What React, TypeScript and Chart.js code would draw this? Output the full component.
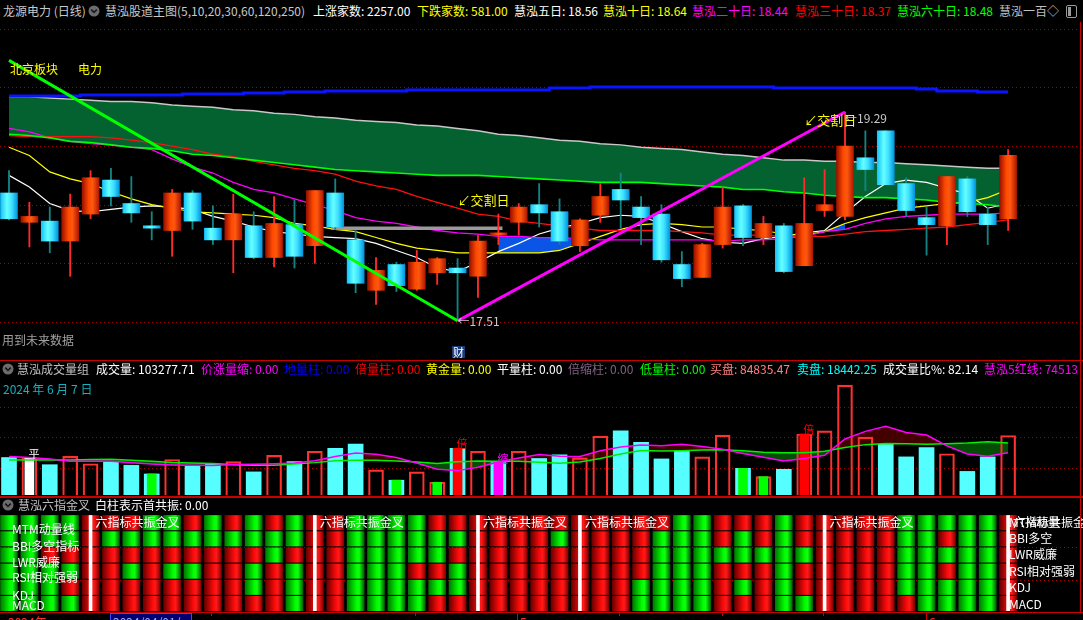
import React, { useEffect, useRef } from 'react';
import { Chart, registerables } from 'chart.js';

Chart.register(...registerables);

const FONT = '"Noto Sans CJK SC", "DejaVu Sans", sans-serif';

// ---------------- price panel data (50 daily candles) ----------------
const OPEN = [18.60,18.35,18.36,18.19,18.42,18.71,18.51,18.32,18.28,18.60, 18.30,18.20,18.32,18.05,18.33,18.15,18.60,18.20,17.77,17.99, 17.78,17.92,17.96,17.89,18.24,18.35,18.50,18.44,18.15,18.41, 18.63,18.48,18.42,17.99,17.88,18.16,18.49,18.22,18.32,17.98, 18.45,18.40,18.90,19.13,18.68,18.39,18.32,18.72,18.42,18.38];
const HIGH = [18.79,18.52,18.48,18.59,18.79,18.81,18.74,18.44,18.63,18.62, 18.49,18.59,18.44,18.57,18.54,18.62,18.72,18.28,18.05,18.01, 18.11,18.05,18.04,18.24,18.42,18.51,18.68,18.55,18.38,18.68, 18.77,18.57,18.50,18.10,18.17,18.65,18.50,18.40,18.34,18.73, 18.80,19.29,19.13,19.13,18.73,18.48,18.74,18.74,18.48,18.97];
const LOW = [18.37,18.14,18.09,17.89,18.38,18.49,18.35,18.20,18.06,18.29, 18.16,17.92,18.04,17.97,17.96,18.00,18.29,17.75,17.65,17.76, 17.77,17.82,17.51,17.71,18.16,18.24,18.31,18.16,18.10,18.35, 18.30,18.16,18.01,17.80,17.88,18.13,18.15,18.16,17.92,17.98, 18.40,18.37,18.62,18.67,18.40,18.07,18.16,18.40,18.16,18.28];
const CLOSE = [18.38,18.40,18.19,18.48,18.73,18.57,18.43,18.30,18.60,18.36, 18.20,18.42,18.05,18.34,18.06,18.62,18.31,17.83,17.94,17.81, 18.01,18.04,17.92,18.19,18.26,18.48,18.43,18.19,18.37,18.57, 18.54,18.39,18.03,17.87,18.16,18.48,18.22,18.34,17.93,18.34, 18.50,19.00,18.80,18.67,18.45,18.33,18.74,18.44,18.33,18.92];

const MA5 = [18.75,18.65,18.51,18.45,18.44,18.46,18.48,18.49,18.48,18.46, 18.40,18.36,18.31,18.27,18.25,18.23,18.22,18.21,18.17,18.11, 18.05,17.96,17.93,18.01,18.10,18.17,18.25,18.30,18.34,18.39, 18.41,18.40,18.34,18.27,18.21,18.18,18.17,18.21,18.23,18.26, 18.28,18.43,18.57,18.68,18.71,18.69,18.64,18.59,18.47,18.51];
const MA10 = [18.99,18.92,18.78,18.72,18.68,18.61,18.55,18.50,18.47,18.44, 18.43,18.42,18.41,18.39,18.34,18.32,18.29,18.27,18.22,18.17, 18.13,18.11,18.09,18.09,18.09,18.09,18.09,18.11,18.17,18.23, 18.29,18.33,18.34,18.33,18.31,18.31,18.29,18.28,18.25,18.24, 18.27,18.34,18.39,18.43,18.47,18.49,18.51,18.52,18.56,18.63];
const MA20 = [19.15,19.12,19.07,19.04,19.02,19.01,18.99,18.97,18.89,18.82, 18.77,18.69,18.63,18.60,18.55,18.50,18.45,18.39,18.36,18.34, 18.31,18.28,18.26,18.25,18.23,18.23,18.22,18.22,18.21,18.20, 18.20,18.20,18.20,18.20,18.20,18.19,18.20,18.20,18.21,18.23, 18.27,18.29,18.34,18.38,18.40,18.41,18.42,18.42,18.42,18.43];
const MA30 = [19.09,19.08,19.08,19.08,19.08,19.07,19.05,19.03,19.00,18.97, 18.93,18.91,18.87,18.84,18.81,18.79,18.76,18.70,18.66,18.63, 18.57,18.52,18.47,18.42,18.40,18.36,18.34,18.32,18.30,18.28, 18.28,18.28,18.28,18.27,18.26,18.24,18.24,18.24,18.23,18.23, 18.23,18.25,18.27,18.28,18.29,18.30,18.31,18.33,18.35,18.37];
const MA60 = [19.10,19.09,19.07,19.04,19.03,19.01,18.99,18.98,18.96,18.93, 18.92,18.90,18.88,18.86,18.84,18.82,18.80,18.79,18.78,18.77, 18.76,18.75,18.75,18.75,18.74,18.73,18.72,18.71,18.70,18.69, 18.69,18.69,18.68,18.67,18.66,18.65,18.63,18.63,18.61,18.60, 18.58,18.57,18.56,18.56,18.55,18.54,18.52,18.51,18.50,18.48];
const MA120 = [19.42,19.42,19.41,19.40,19.39,19.38,19.38,19.37,19.35,19.34, 19.33,19.31,19.30,19.28,19.27,19.25,19.24,19.22,19.21,19.20, 19.18,19.17,19.15,19.13,19.10,19.09,19.07,19.05,19.04,19.02, 19.01,18.99,18.98,18.97,18.95,18.93,18.92,18.90,18.88,18.88, 18.87,18.87,18.86,18.86,18.85,18.84,18.83,18.82,18.81,18.81];
const MA250 = [19.427,19.427,19.427,19.427,19.435,19.435,19.435,19.435,19.435,19.444, 19.444,19.444,19.452,19.452,19.461,19.461,19.469,19.469,19.469,19.469, 19.478,19.478,19.478,19.478,19.478,19.478,19.478,19.495,19.495,19.503, 19.503,19.503,19.503,19.503,19.503,19.503,19.503,19.503,19.495,19.495, 19.495,19.495,19.495,19.495,19.495,19.486,19.469,19.469,19.461,19.461];

const PRICE_GRID = [17.5, 18, 18.5, 19, 19.5, 20];
const TREND_DOWN = [[0, 19.73], [22, 17.51]];
const TREND_UP = [[22, 17.51], [41, 19.29]];
const SUPPORT = [15.8, 24.2, 18.30]; // from index, to index, price
const BLUE_FILL_RANGES = [[24, 28], [39, 41]];
const DELIVERY_DAYS = [[22, 18.54], [39, 19.22]];
const LOW_MARK = [22, 17.51];
const HIGH_MARK = [41, 19.29];
const CAI_DAYS = [22];

// ---------------- volume panel data (thousand lots) ----------------
const VOLUME = [67.2,67.2,55.4,69.0,57.0,60.5,54.3,40.2,63.9,53.1, 56.5,60.5,43.6,70.6,60.5,77.4,82.4,89.3,46.9,30.0, 43.6,26.6,82.4,77.4,58.8,77.4,65.6,71.6,66.5,102.3, 110.8,92.1,64.9,77.9,68.2,103.9,49.5,35.9,47.9,105.7, 110.8,185.7,100.6,88.7,68.2,83.6,73.3,44.4,68.2,103.3];
const VOL_RED = [0,1,0,1,1,0,0,0,1,0, 0,1,0,1,0,1,0,0,1,0, 1,1,0,1,0,1,0,0,1,1, 0,0,0,0,1,1,0,1,0,1, 1,1,1,0,0,0,1,0,0,1];
const VOL_MARK = ['','w','','','','','','g','','', '','','','','','','','','','g', '','g','r','','m','','','','','', '','','','','','','g','g','','r', '','','','','','','','','',''];
const VOL_TAGS = [[1, '平'], [22, '倍'], [24, '缩'], [39, '倍']];
const VOL_LINE_M = [68.8,67.0,64.7,61.0,61.0,61.0,58.5,56.5,55.1,54.3, 54.1,55.6,56.2,57.0,58.2,61.8,68.7,74.6,72.4,67.2, 58.2,48.0,45.7,51.1,59.8,66.4,72.1,69.2,68.8,78.3, 84.4,87.7,86.4,88.8,85.2,80.8,73.9,67.5,61.6,65.6, 70.8,97.5,110.0,118.2,108.2,104.1,86.2,72.9,69.2,75.1];
const VOL_LINE_G = [63.3,62.9,62.9,63.1,63.8,64.2,62.8,61.0,59.0,58.2, 57.2,55.4,54.7,54.7,56.5,58.8,62.0,62.8,62.8,61.6, 59.8,57.5,60.3,61.5,61.1,61.0,59.3,57.9,60.0,65.4, 72.9,78.7,78.0,78.3,79.3,80.0,78.2,75.9,75.1,75.1, 77.5,83.6,88.3,90.3,89.8,89.0,89.7,91.0,93.1,91.0];
const VOL_GRID = [50, 100, 150];

// ---------------- six-indicator signal grid (1 = red, 0 = green) ----------------
const SIG_MTM = [0,0,0,0,1,1,1,0,0,1, 0,1,0,1,0,1,1,0,0,0, 0,1,1,1,1,1,1,1,1,1, 1,1,1,0,0,1,1,1,0,1, 1,1,1,1,0,0,0,0,0,1];
const SIG_BBI = [0,0,0,0,1,0,0,0,0,0, 0,0,0,0,0,1,1,0,0,0, 0,0,0,1,1,1,1,0,1,1, 1,1,0,0,0,1,0,1,0,1, 1,1,1,1,0,0,1,0,0,1];
const SIG_LWR = [0,0,1,1,1,1,1,1,1,1, 1,1,1,0,1,1,1,0,0,0, 0,0,1,1,1,1,1,1,1,1, 1,1,0,0,0,0,0,0,0,0, 1,1,1,1,0,0,0,0,0,1];
const SIG_RSI = [0,0,0,0,1,1,0,1,0,0, 1,1,0,1,0,1,1,0,0,0, 1,1,0,1,1,1,1,1,1,1, 1,1,0,0,0,1,1,1,0,1, 1,1,1,1,0,0,1,0,0,1];
const SIG_KDJ = [0,0,0,1,1,1,1,1,1,1, 1,1,0,1,0,1,1,0,0,0, 0,0,0,1,1,1,1,1,1,1, 1,0,0,0,0,1,0,1,0,1, 1,1,1,1,0,0,0,0,0,1];
const SIG_MACD = [0,0,0,0,1,1,1,1,1,1, 1,1,1,1,0,1,1,0,0,0, 0,1,1,1,1,1,1,1,1,1, 1,0,0,0,0,1,1,1,0,0, 1,1,1,1,1,0,0,0,0,1];
const SIG_ROWS = [SIG_MTM, SIG_BBI, SIG_LWR, SIG_RSI, SIG_KDJ, SIG_MACD];
const SIG_NAMES_LEFT = ['MTM动量线', 'BBI多空指标', 'LWR威廉', 'RSI相对强弱', 'KDJ', 'MACD'];
const SIG_NAMES_RIGHT = ['MTM动量', 'BBI多空', 'LWR威廉', 'RSI相对强弱', 'KDJ', 'MACD'];
const RESONANCE_COLS = [4, 15, 23, 28, 40, 49];
const SIG_GRID = [2, 4];

// ---------------- helpers ----------------
const X_MIN = -0.4414;
const X_MAX = 52.673;
const xScale = () => ({ type: 'linear', min: X_MIN, max: X_MAX, offset: false, display: false, grid: { offset: false } });

function hGrad(chart: any, i: number, half: number, stops: [number, string][]) {
  const xs = chart.scales && chart.scales.x;
  const cx = xs ? xs.getPixelForValue(i) : NaN;
  if (!Number.isFinite(cx)) return stops[1][1];
  const g = chart.ctx.createLinearGradient(cx - half, 0, cx + half, 0);
  stops.forEach(([o, c]) => g.addColorStop(o, c));
  return g;
}

const RED_BODY: [number, string][] = [[0, '#9a1000'], [0.4, '#ff4a00'], [0.62, '#ff5810'], [1, '#b01800']];
const CYAN_BODY: [number, string][] = [[0, '#12c4ff'], [0.38, '#66ffff'], [0.66, '#3ee0ff'], [1, '#0094e0']];
const RED_CELL: [number, string][] = [[0, '#6a0000'], [0.55, '#ff0a0a'], [0.7, '#ff1a1a'], [1, '#8a0000']];
const GREEN_CELL: [number, string][] = [[0, '#007a00'], [0.55, '#00ff00'], [0.7, '#10ff10'], [1, '#006400']];

const hLines = {
  id: 'hlines',
  beforeDraw(chart: any, _a: any, opts: any) {
    if (!opts || !opts.levels) return;
    const { ctx, chartArea, scales } = chart;
    ctx.save();
    ctx.strokeStyle = opts.color || '#a00000';
    ctx.lineWidth = 1;
    ctx.setLineDash([1, 3]);
    for (const v of opts.levels) {
      const py = Math.round(scales.y.getPixelForValue(v)) + 0.5;
      ctx.beginPath();
      ctx.moveTo(chartArea.left, py);
      ctx.lineTo(chartArea.right, py);
      ctx.stroke();
    }
    ctx.restore();
  },
};

const priceNotes = {
  id: 'priceNotes',
  afterDatasetsDraw(chart: any) {
    const { ctx, chartArea, scales } = chart;
    const X = (i: number) => scales.x.getPixelForValue(i);
    const Y = (p: number) => scales.y.getPixelForValue(p);
    ctx.save();
    ctx.textAlign = 'left';
    ctx.textBaseline = 'middle';
    ctx.font = `13px ${FONT}`;
    ctx.fillStyle = '#ffff00';
    DELIVERY_DAYS.forEach(([i, p]) => ctx.fillText('↙交割日', X(i), Y(p)));
    ctx.font = `12px ${FONT}`;
    ctx.fillStyle = '#c8c8c8';
    ctx.fillText('←' + LOW_MARK[1].toFixed(2), X(LOW_MARK[0]), Y(LOW_MARK[1]) + 1);
    ctx.fillText('←' + HIGH_MARK[1].toFixed(2), X(HIGH_MARK[0]), Y(HIGH_MARK[1]) + 6);
    CAI_DAYS.forEach((i) => {
      const x = X(i);
      ctx.fillStyle = '#1c3a78';
      ctx.fillRect(Math.round(x) - 6, chartArea.bottom - 12, 13, 13);
      ctx.fillStyle = '#ffffff';
      ctx.font = `11px ${FONT}`;
      ctx.textAlign = 'center';
      ctx.fillText('财', Math.round(x) + 0.5, chartArea.bottom - 5.5);
    });
    ctx.restore();
  },
};

const volNotes = {
  id: 'volNotes',
  afterDatasetsDraw(chart: any) {
    const { ctx, scales } = chart;
    ctx.save();
    ctx.font = `11px ${FONT}`;
    ctx.textAlign = 'left';
    ctx.textBaseline = 'middle';
    VOL_TAGS.forEach(([i, t]: any) => {
      ctx.fillStyle = t === '平' ? '#ffffff' : t === '缩' ? '#ff00ff' : '#ff0000';
      ctx.fillText(t, scales.x.getPixelForValue(i) - 1, scales.y.getPixelForValue(VOLUME[i]) - 4);
    });
    ctx.restore();
  },
};

const sigNotes = {
  id: 'sigNotes',
  afterDatasetsDraw(chart: any) {
    const { ctx, scales, chartArea } = chart;
    ctx.save();
    ctx.font = `12px ${FONT}`;
    ctx.fillStyle = '#ffffff';
    ctx.textAlign = 'left';
    ctx.textBaseline = 'middle';
    RESONANCE_COLS.forEach((i) => ctx.fillText('六指标共振金叉', scales.x.getPixelForValue(i) + 5, chartArea.top + 7));
    ctx.restore();
  },
};

const baseOptions = (y: any, plugins: any) => ({
  responsive: false,
  maintainAspectRatio: false,
  animation: false,
  events: [],
  layout: { padding: 0, autoPadding: false },
  plugins: {
    legend: { display: false },
    tooltip: { enabled: false },
    filler: { propagate: false, drawTime: 'beforeDatasetsDraw' },
    ...plugins,
  },
  scales: { x: xScale(), y },
});

const line = (data: any[], color: string, width: number, order: number, extra: any = {}) => ({
  type: 'line', data, borderColor: color, borderWidth: width, pointRadius: 0, tension: 0, fill: false, order, ...extra,
});

function makePrice(canvas: HTMLCanvasElement) {
  const pts = (arr: number[]) => arr.map((v, i) => ({ x: i, y: v }));
  const inR = (i: number) => BLUE_FILL_RANGES.some(([a, b]) => i >= a && i <= b);
  const BAND = '#03622f';
  const BLUE = '#0a55e6';
  const up = (i: number) => CLOSE[i] >= OPEN[i];
  const datasets: any[] = [
    line(pts(MA120), '#c8c8c8', 1.5, 9, { fill: { target: 1, above: BAND, below: BAND } }),
    line(pts(MA60), '#00ff00', 1.6, 6),
    line(MA20.map((v, i) => ({ x: i, y: inR(i) ? v : null })), 'rgba(0,0,0,0)', 1, 8, { fill: { target: 3, above: BLUE, below: BLUE } }),
    line(MA10.map((v, i) => ({ x: i, y: inR(i) ? v : null })), 'rgba(0,0,0,0)', 1, 8),
    line(pts(MA250), '#0a14ff', 3, 6, { stepped: 'middle' }),
    line(pts(MA30), '#ff1010', 1.3, 6),
    line(pts(MA20), '#ff00ff', 1.3, 6),
    line(pts(MA10), '#ffff00', 1.2, 6),
    line(pts(MA5), '#ffffff', 1.2, 6),
    line([{ x: SUPPORT[0], y: SUPPORT[2] }, { x: SUPPORT[1], y: SUPPORT[2] }], '#9a9a9a', 3.5, 5),
    {
      type: 'bar', order: 3, grouped: false, barThickness: 1.2,
      data: OPEN.map((_, i) => ({ x: i, y: [LOW[i], HIGH[i]] })),
      backgroundColor: (c: any) => (c.raw && up(c.raw.x) ? '#ff2a2a' : '#138383'),
    },
    {
      type: 'bar', order: 2, grouped: false, barThickness: 17, minBarLength: 2,
      data: OPEN.map((o, i) => ({ x: i, y: [o, CLOSE[i]] })),
      backgroundColor: (c: any) => {
        if (!c.raw) return '#ff4a00';
        const i = c.raw.x;
        return hGrad(c.chart, i, 8.5, up(i) ? RED_BODY : CYAN_BODY);
      },
    },
    line(TREND_DOWN.map(([i, p]) => ({ x: i, y: p })), '#00ff00', 3, 1),
    line(TREND_UP.map(([i, p]) => ({ x: i, y: p })), '#ff00ff', 3, 1),
  ];
  return new Chart(canvas, {
    type: 'bar',
    data: { datasets },
    options: baseOptions({ type: 'linear', min: 17.1931, max: 20.0575, display: false }, { hlines: { levels: PRICE_GRID, color: '#a00000' } }),
    plugins: [hLines, priceNotes],
  } as any);
}

function makeVol(canvas: HTMLCanvasElement) {
  const pts = (arr: number[]) => arr.map((v, i) => ({ x: i, y: v }));
  const markColor: any = { w: '#ffffff', g: '#00ff00', r: '#ff0000', m: '#ff00ff' };
  const datasets: any[] = [
    line(pts(VOL_LINE_M), '#ff00ff', 1.5, 1, { fill: { target: 1, above: '#420000', below: '#044d04' } }),
    line(pts(VOL_LINE_G), '#00ee00', 1.5, 1),
    {
      type: 'bar', order: 3, grouped: false, barThickness: 15,
      data: pts(VOLUME),
      backgroundColor: (c: any) => (c.raw && VOL_RED[c.raw.x] ? 'rgba(0,0,0,0)' : '#55ffff'),
      borderColor: (c: any) => (c.raw && VOL_RED[c.raw.x] ? '#ff3030' : '#55ffff'),
      borderWidth: (c: any) => (c.raw && VOL_RED[c.raw.x] ? 1.5 : 0),
      borderSkipped: 'start',
    },
    {
      type: 'bar', order: 2, grouped: false, barThickness: 9,
      data: VOL_MARK.map((m, i) => (m ? { x: i, y: VOLUME[i] } : null)).filter(Boolean),
      backgroundColor: (c: any) => (c.raw ? markColor[VOL_MARK[c.raw.x]] : '#fff'),
    },
  ];
  return new Chart(canvas, {
    type: 'bar',
    data: { datasets },
    options: baseOptions({ type: 'linear', min: 5.74, max: 225.36, display: false }, { hlines: { levels: VOL_GRID, color: '#a00000' } }),
    plugins: [hLines, volNotes],
  } as any);
}

function makeSig(canvas: HTMLCanvasElement) {
  const datasets: any[] = SIG_ROWS.map((row, r) => ({
    type: 'bar', order: 2, grouped: false, barThickness: 17,
    data: row.map((_, i) => ({ x: i, y: [r + 0.03, r + 0.92] })),
    backgroundColor: (c: any) => {
      if (!c.raw) return '#f00';
      const i = c.raw.x;
      return hGrad(c.chart, i, 8.5, row[i] ? RED_CELL : GREEN_CELL);
    },
  }));
  datasets.push({
    type: 'bar', order: 1, grouped: false, barThickness: 3,
    data: RESONANCE_COLS.map((i) => ({ x: i, y: [0.03, 5.92] })),
    backgroundColor: '#ffffff',
  });
  return new Chart(canvas, {
    type: 'bar',
    data: { datasets },
    options: baseOptions({ type: 'linear', min: 0, max: 6, reverse: true, display: false }, { hlines: { levels: SIG_GRID, color: '#b00000' } }),
    plugins: [hLines, sigNotes],
  } as any);
}

// ---------------- UI pieces ----------------
function T({ x, y, c, s = 12, children }: any) {
  return (
    <div style={{ position: 'absolute', left: x, top: y - 8, height: 16, lineHeight: '16px', color: c, fontSize: s, whiteSpace: 'nowrap', fontFamily: FONT }}>
      {children}
    </div>
  );
}

function Knob({ x, y }: any) {
  return (
    <svg width={12} height={12} style={{ position: 'absolute', left: x, top: y - 6 }}>
      <circle cx={6} cy={6} r={5.5} fill="#6c6c6c" />
      <polyline points="3.2,4.6 6,7.4 8.8,4.6" fill="none" stroke="#1a1a1a" strokeWidth={1.6} />
    </svg>
  );
}

function HLine({ y, x = 0, w = 1083, c = '#c80000', h = 1 }: any) {
  return <div style={{ position: 'absolute', left: x, top: y, width: w, height: h, background: c }} />;
}

export default function App() {
  const pRef = useRef<HTMLCanvasElement>(null);
  const vRef = useRef<HTMLCanvasElement>(null);
  const sRef = useRef<HTMLCanvasElement>(null);

  useEffect(() => {
    const charts = [makePrice(pRef.current!), makeVol(vRef.current!), makeSig(sRef.current!)];
    return () => charts.forEach((c) => c.destroy());
  }, []);

  const leftY = [529, 546, 562, 577, 595, 605];
  const rightY = [522, 538, 554, 571, 587, 604];

  return (
    <div style={{ position: 'fixed', left: 0, top: 0, width: 1083, height: 620, background: '#000', overflow: 'hidden', fontFamily: FONT }}>
      <canvas ref={pRef} width={1083} height={336} style={{ position: 'absolute', left: 0, top: 22, display: 'block' }} />
      <canvas ref={vRef} width={1083} height={134} style={{ position: 'absolute', left: 0, top: 361, display: 'block' }} />
      <canvas ref={sRef} width={1083} height={97} style={{ position: 'absolute', left: 0, top: 515, display: 'block' }} />

      {/* title bar */}
      <T x={3} y={11} c="#c8c8c8">龙源电力 (日线)</T>
      <Knob x={88} y={11} />
      <T x={105} y={11} c="#c8c8c8">慧泓股道主图(5,10,20,30,60,120,250)</T>
      <T x={313} y={11} c="#ffffff">上涨家数: 2257.00</T>
      <T x={417} y={11} c="#ffff00">下跌家数: 581.00</T>
      <T x={514} y={11} c="#ffffff">慧泓五日: 18.56</T>
      <T x={603} y={11} c="#ffff00">慧泓十日: 18.64</T>
      <T x={692} y={11} c="#ff00ff">慧泓二十日: 18.44</T>
      <T x={795} y={11} c="#ff0000">慧泓三十日: 18.37</T>
      <T x={897} y={11} c="#00ff00">慧泓六十日: 18.48</T>
      <T x={999} y={11} c="#c0c0c0">慧泓一百◇</T>
      <div style={{ position: 'absolute', left: 1066, top: 5, width: 9, height: 11, border: '1px solid #9a9a9a', borderRadius: 2 }}>
        <div style={{ position: 'absolute', left: 1, top: 1, width: 3, height: 9, background: '#9a9a9a' }} />
      </div>

      {/* price panel texts */}
      <T x={10} y={69} c="#ffff00">北京板块</T>
      <T x={78} y={69} c="#ffff00">电力</T>
      <T x={2} y={340} c="#a0a0a0">用到未来数据</T>

      {/* volume panel */}
      <HLine y={360} />
      <Knob x={2} y={369} />
      <T x={17} y={369} c="#c0c0c0">慧泓成交量组</T>
      <T x={96} y={369} c="#ffffff">成交量: 103277.71</T>
      <T x={201} y={369} c="#ff00ff">价涨量缩: 0.00</T>
      <T x={284} y={369} c="#0000ff">地量柱: 0.00</T>
      <T x={355} y={369} c="#ff0000">倍量柱: 0.00</T>
      <T x={426} y={369} c="#ffff00">黄金量: 0.00</T>
      <T x={497} y={369} c="#ffffff">平量柱: 0.00</T>
      <T x={568} y={369} c="#806080">倍缩柱: 0.00</T>
      <T x={640} y={369} c="#00ff00">低量柱: 0.00</T>
      <T x={710} y={369} c="#ff8080">买盘: 84835.47</T>
      <T x={797} y={369} c="#00ffff">卖盘: 18442.25</T>
      <T x={883} y={369} c="#ffffff">成交量比%: 82.14</T>
      <T x={984} y={369} c="#ff00ff">慧泓5红线: 74513</T>
      <T x={3} y={389} c="#1ab0c0">2024 年 6 月 7 日</T>

      {/* signal panel */}
      <HLine y={496} h={1.5} />
      <Knob x={2} y={505} />
      <T x={18} y={505} c="#c0c0c0">慧泓六指金叉</T>
      <T x={95} y={505} c="#ffffff">白柱表示首共振: 0.00</T>
      {SIG_NAMES_LEFT.map((n, r) => (
        <T key={'l' + n} x={12} y={leftY[r]} c="#ffffff">{n}</T>
      ))}
      {SIG_NAMES_RIGHT.map((n, r) => (
        <T key={'r' + n} x={1009} y={rightY[r]} c="#ffffff">{n}</T>
      ))}

      {/* frame */}
      <HLine y={612} />
      <div style={{ position: 'absolute', left: 1080, top: 22, width: 1, height: 591, background: '#c80000' }} />

      {/* bottom date strip */}
      <T x={8} y={622} c="#ff3030">2024年</T>
      <div style={{ position: 'absolute', left: 110, top: 613, width: 80, height: 12, border: '1px solid #3050ff', background: '#000070' }}>
        <div style={{ position: 'absolute', left: 2, top: 1, fontSize: 12, lineHeight: '14px', color: '#a0a8ff', whiteSpace: 'nowrap', fontFamily: FONT }}>2024/04/01/</div>
      </div>
      {[211, 415, 619, 722, 823].map((x) => (
        <div key={x} style={{ position: 'absolute', left: x, top: 612, width: 1, height: 4, background: '#c80000' }} />
      ))}
      {[517, 926].map((x) => (
        <div key={x} style={{ position: 'absolute', left: x, top: 612, width: 1, height: 8, background: '#c80000' }} />
      ))}
      <T x={520} y={622} c="#ff3030">5</T>
      <T x={929} y={622} c="#ff3030">6</T>
    </div>
  );
}
